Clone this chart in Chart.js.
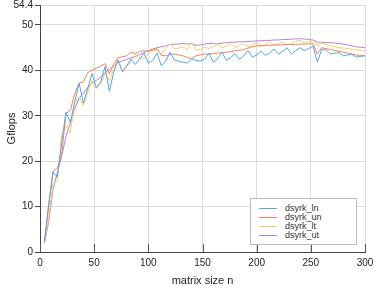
<!DOCTYPE html>
<html>
<head>
<meta charset="utf-8">
<script src="https://cdn.jsdelivr.net/npm/chart.js@4/dist/chart.umd.min.js"></script>
<style>
  html, body { margin: 0; padding: 0; background: #fff; }
  #wrap { position: relative; width: 374px; height: 288px; }
  #legend {
    position: absolute; left: 250px; top: 198px; width: 105px; height: 40px;
    border: 1px solid #bbb; background: #fff;
    font: 9px "Liberation Sans", Arial, sans-serif; color: #333;
    padding-top: 5px; box-sizing: content-box;
  }
  #legend .row { height: 9px; line-height: 9px; position: relative; }
  #legend .sw { position: absolute; left: 8px; top: 4px; width: 18px; height: 1px; }
  #legend .tx { position: absolute; left: 34px; top: 0; }
</style>
</head>
<body>
<div id="wrap">
  <canvas id="c" width="374" height="288"></canvas>
  <div id="legend"></div>
</div>
<script>
// matrix sizes n
const sizes = [4,8,12,16,20,24,28,32,36,40,44,48,52,56,60,64,68,72,76,80,
  84,88,92,96,100,104,108,112,116,120,124,128,132,136,140,144,148,152,156,160,
  164,168,172,176,180,184,188,192,196,200,204,208,212,216,220,224,228,232,236,240,
  244,248,252,256,260,264,268,272,276,280,284,288,292,296,300];

const dsyrk_ln = [2.0,10.5,17.6,16.5,24.0,30.8,28.5,33.0,37.2,32.8,36.0,39.3,36.2,37.5,40.8,35.4,39.5,42.2,39.7,41.0,
  42.5,41.3,42.5,43.8,41.6,42.2,43.8,41.0,42.0,44.0,42.3,42.0,41.8,41.6,42.5,42.2,42.0,42.5,43.8,41.8,
  42.6,44.0,42.2,42.8,43.7,42.4,43.2,44.4,42.9,43.4,44.2,43.3,43.8,44.7,43.6,44.2,45.0,43.6,44.3,45.0,
  44.3,44.8,45.4,41.8,44.6,44.5,43.6,43.8,43.9,43.2,43.4,43.5,42.9,43.1,43.2];

const dsyrk_un = [2.2,10.0,17.8,18.5,21.5,30.5,31.2,34.8,37.2,37.4,39.5,40.0,40.5,40.9,41.5,39.2,41.3,42.8,43.0,43.2,
  44.0,43.7,44.2,44.3,44.3,44.5,44.8,43.3,43.2,43.5,43.6,43.4,43.2,42.8,42.6,43.2,43.4,43.6,43.6,43.7,
  43.8,43.9,44.0,44.1,44.3,44.4,44.6,44.9,45.2,45.4,45.4,45.5,45.5,45.6,45.6,45.6,45.7,45.7,45.7,45.8,
  45.8,45.8,45.9,43.6,45.0,44.8,44.6,44.4,44.2,44.0,43.8,43.6,43.4,43.3,43.2];

const dsyrk_lt = [2.0,7.5,15.0,15.6,26.0,27.8,26.3,32.8,34.2,32.3,35.0,37.8,36.0,37.0,39.5,37.8,40.2,42.5,40.0,40.7,
  42.2,43.3,42.8,42.5,43.8,44.4,44.4,43.6,44.8,45.8,44.8,44.9,45.2,44.6,46.2,44.4,44.6,45.1,44.8,45.2,
  45.8,45.0,45.3,45.9,45.1,45.4,46.0,45.2,45.5,46.1,45.4,45.7,46.2,45.5,45.8,46.3,45.6,45.9,46.4,46.6,
  46.0,46.2,46.6,45.5,46.0,45.7,45.4,45.2,45.0,44.9,44.8,44.6,44.5,44.4,44.4];

const dsyrk_ut = [2.0,6.5,13.8,17.5,21.0,25.5,28.5,31.5,33.8,35.0,36.2,37.2,37.8,38.5,39.5,40.2,41.0,41.8,42.1,42.4,
  42.8,43.1,43.5,43.9,44.3,44.7,45.0,45.2,45.4,45.7,45.8,45.8,45.9,45.8,45.9,45.5,45.6,45.8,45.9,46.0,
  45.8,46.0,46.1,46.2,46.2,46.3,46.3,46.4,46.4,46.5,46.5,46.6,46.6,46.7,46.7,46.8,46.8,46.9,46.9,47.0,
  46.9,46.8,46.7,46.2,46.2,46.1,46.1,46.0,45.9,45.8,45.6,45.4,45.2,45.1,45.0];

const seriesNames = ['dsyrk_ln', 'dsyrk_un', 'dsyrk_lt', 'dsyrk_ut'];
const seriesColors = ['#55a7e2', '#f2845c', '#f7cd6a', '#b882d6'];
const yTicks = [0, 10, 20, 30, 40, 50, 54.4];
const xTicks = [0, 50, 100, 150, 200, 250, 300];

const FONT = '"Liberation Sans", Arial, sans-serif';

const datasets = [dsyrk_ln, dsyrk_un, dsyrk_lt, dsyrk_ut].map((vals, i) => ({
  label: seriesNames[i],
  data: sizes.map((n, k) => ({ x: n, y: vals[k] })),
  borderColor: seriesColors[i],
  backgroundColor: seriesColors[i],
  borderWidth: 1,
  pointRadius: 0,
  tension: 0,
  fill: false
}));

// small tick marks inside the plot on the x axis
const innerTicks = {
  id: 'innerTicks',
  afterDraw(chart) {
    const { ctx, scales: { x }, chartArea } = chart;
    ctx.save();
    ctx.strokeStyle = '#555';
    ctx.lineWidth = 1;
    xTicks.forEach(v => {
      const px = Math.round(x.getPixelForValue(v)) + 0.5;
      ctx.beginPath();
      ctx.moveTo(px, chartArea.bottom);
      ctx.lineTo(px, chartArea.bottom - 8);
      ctx.stroke();
    });
    ctx.restore();
  }
};

new Chart(document.getElementById('c').getContext('2d'), {
  type: 'line',
  data: { datasets },
  options: {
    responsive: false,
    animation: false,
    layout: { padding: { top: 5, right: 9, left: 0, bottom: 0 } },
    plugins: { legend: { display: false }, tooltip: { enabled: false } },
    scales: {
      x: {
        type: 'linear', min: 0, max: 300,
        afterBuildTicks: s => { s.ticks = xTicks.map(v => ({ value: v })); },
        afterFit: s => { s.height = 36; s.paddingRight = 0; s.paddingLeft = 0; },
        grid: { color: '#dcdcdc', drawTicks: false },
        border: { color: '#444', width: 1 },
        ticks: { color: '#222', font: { family: FONT, size: 10 }, padding: 5, maxRotation: 0 },
        title: { display: true, text: 'matrix size n', color: '#222', font: { family: FONT, size: 11 }, padding: { top: 3, bottom: 0 } }
      },
      y: {
        type: 'linear', min: 0, max: 54.4,
        afterBuildTicks: s => { s.ticks = yTicks.map(v => ({ value: v })); },
        afterFit: s => { s.width = 40; s.paddingTop = 0; s.paddingBottom = 0; },
        grid: { color: '#dcdcdc', tickColor: '#444', tickLength: 5 },
        border: { color: '#444', width: 1 },
        ticks: { color: '#222', font: { family: FONT, size: 10 }, padding: 2,
          callback: v => String(v) },
        title: { display: true, text: 'Gflops', color: '#222', font: { family: FONT, size: 11 }, padding: { top: 5, bottom: 0 } }
      }
    }
  },
  plugins: [innerTicks]
});

const legend = document.getElementById('legend');
seriesNames.forEach((name, i) => {
  const row = document.createElement('div');
  row.className = 'row';
  row.innerHTML = '<span class="sw" style="background:' + seriesColors[i] + '"></span><span class="tx">' + name + '</span>';
  legend.appendChild(row);
});
</script>
</body>
</html>
